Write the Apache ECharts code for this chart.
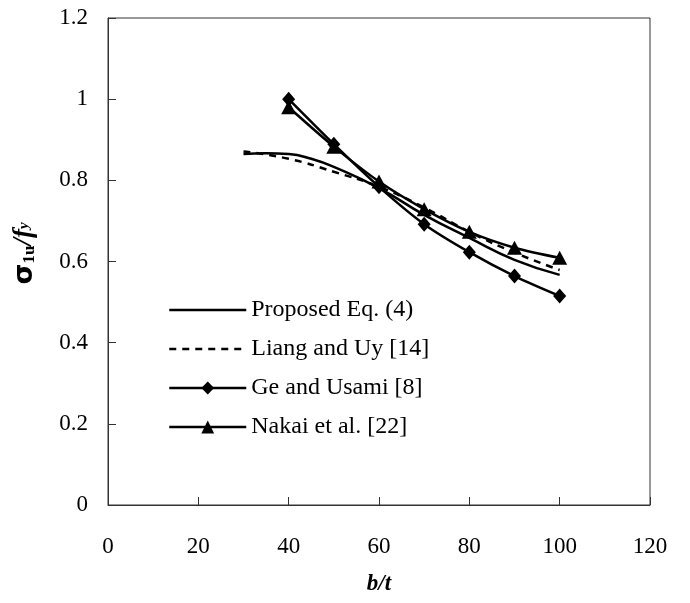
<!DOCTYPE html>
<html>
<head>
<meta charset="utf-8">
<script src="https://cdn.jsdelivr.net/npm/echarts@6/dist/echarts.min.js"></script>
<style>
  html, body { margin: 0; padding: 0; background: #fff; }
  #chart { width: 690px; height: 603px; }
</style>
</head>
<body>
<div id="chart"></div>
<script>
// Normalised ultimate strength sigma_1u / f_y against width-to-thickness ratio b/t
const proposedBt = [30, 35, 40, 45, 50, 60, 70, 80, 90, 100];
const proposedVal = [0.865, 0.867, 0.865, 0.853, 0.833, 0.781, 0.715, 0.658, 0.604, 0.567];

const liangBt = [30, 40, 50, 60, 70, 80, 90, 100];
const liangVal = [0.871, 0.853, 0.821, 0.784, 0.733, 0.673, 0.622, 0.579];

const geBt = [40, 50, 60, 70, 80, 90, 100];
const geVal = [1.0, 0.889, 0.784, 0.692, 0.623, 0.564, 0.515];

const nakaiBt = [40, 50, 60, 70, 80, 90, 100];
const nakaiVal = [0.98, 0.883, 0.797, 0.729, 0.673, 0.634, 0.609];

const xTicks = [0, 20, 40, 60, 80, 100, 120];
const yTicks = [0, 0.2, 0.4, 0.6, 0.8, 1, 1.2];

const pairs = (xs, ys) => xs.map((x, i) => [x, ys[i]]);

const serif = '"Liberation Serif", "Times New Roman", serif';
const ink = '#000';
const noMarker = { color: 'rgba(0,0,0,0)', borderWidth: 0, opacity: 0 };

const chart = echarts.init(document.getElementById('chart'), null, { renderer: 'canvas' });

chart.setOption({
  animation: false,
  backgroundColor: '#fff',
  grid: {
    left: 108, top: 18, right: 40, bottom: 98,
    show: true, borderColor: '#333', borderWidth: 1, backgroundColor: 'transparent'
  },
  xAxis: {
    type: 'value',
    min: xTicks[0], max: xTicks[xTicks.length - 1], interval: 20,
    axisLine: { show: true, onZero: false, lineStyle: { color: '#333', width: 1 } },
    axisTick: { show: true, inside: true, length: 8, lineStyle: { color: '#333' } },
    splitLine: { show: false },
    axisLabel: { margin: 30, color: ink, fontFamily: serif, fontSize: 23 },
    name: 'b/t',
    nameLocation: 'middle',
    nameGap: 68,
    nameTextStyle: { color: ink, fontFamily: serif, fontSize: 23, fontWeight: 'bold', fontStyle: 'italic' }
  },
  yAxis: {
    type: 'value',
    min: yTicks[0], max: yTicks[yTicks.length - 1], interval: 0.2,
    axisLine: { show: true, onZero: false, lineStyle: { color: '#333', width: 1 } },
    axisTick: { show: true, inside: true, length: 8, lineStyle: { color: '#333' } },
    splitLine: { show: false },
    axisLabel: {
      margin: 20, color: ink, fontFamily: serif, fontSize: 23,
      formatter: v => String(Math.round(v * 10) / 10)
    },
    name: '{s|σ}{sub|1u}{f|/f}{suby|y}',
    nameLocation: 'middle',
    nameGap: 70,
    nameRotate: 90,
    nameTextStyle: {
      color: ink,
      padding: [0, 0, 0, 16],
      rich: {
        s: { fontFamily: '"DejaVu Sans", sans-serif', fontWeight: 'bold', fontSize: 27, color: ink, verticalAlign: 'bottom' },
        sub: { fontFamily: serif, fontWeight: 'bold', fontSize: 17, color: ink, verticalAlign: 'bottom' },
        f: { fontFamily: serif, fontWeight: 'bold', fontStyle: 'italic', fontSize: 27, color: ink, verticalAlign: 'bottom' },
        suby: { fontFamily: serif, fontWeight: 'bold', fontStyle: 'italic', fontSize: 15, color: ink, verticalAlign: 'middle' }
      }
    }
  },
  legend: {
    orient: 'vertical',
    left: 163,
    top: 293,
    itemWidth: 77,
    itemHeight: 16,
    itemGap: 15,
    lineStyle: { width: 2.5 },
    textStyle: { color: ink, fontFamily: serif, fontSize: 24, padding: [0, 0, 0, 0] },
    data: [
      { name: 'Proposed Eq. (4)', itemStyle: noMarker },
      { name: 'Liang and Uy [14]', itemStyle: noMarker },
      { name: 'Ge and Usami [8]' },
      { name: 'Nakai et al. [22]' }
    ]
  },
  series: [
    {
      name: 'Proposed Eq. (4)',
      type: 'line',
      data: pairs(proposedBt, proposedVal),
      smooth: 0.5,
      symbol: 'none',
      lineStyle: { color: ink, width: 2.5 },
      itemStyle: { color: ink }
    },
    {
      name: 'Liang and Uy [14]',
      type: 'line',
      data: pairs(liangBt, liangVal),
      smooth: 0.5,
      symbol: 'none',
      lineStyle: { color: ink, width: 2.5, type: [7, 6] },
      itemStyle: { color: ink }
    },
    {
      name: 'Ge and Usami [8]',
      type: 'line',
      data: pairs(geBt, geVal),
      smooth: 0.3,
      symbol: 'diamond',
      symbolSize: [13, 15],
      showAllSymbol: true,
      lineStyle: { color: ink, width: 2.5 },
      itemStyle: { color: ink }
    },
    {
      name: 'Nakai et al. [22]',
      type: 'line',
      data: pairs(nakaiBt, nakaiVal),
      smooth: 0.3,
      symbol: 'triangle',
      symbolSize: [15, 14],
      showAllSymbol: true,
      lineStyle: { color: ink, width: 2.5 },
      itemStyle: { color: ink }
    }
  ]
});
</script>
</body>
</html>
